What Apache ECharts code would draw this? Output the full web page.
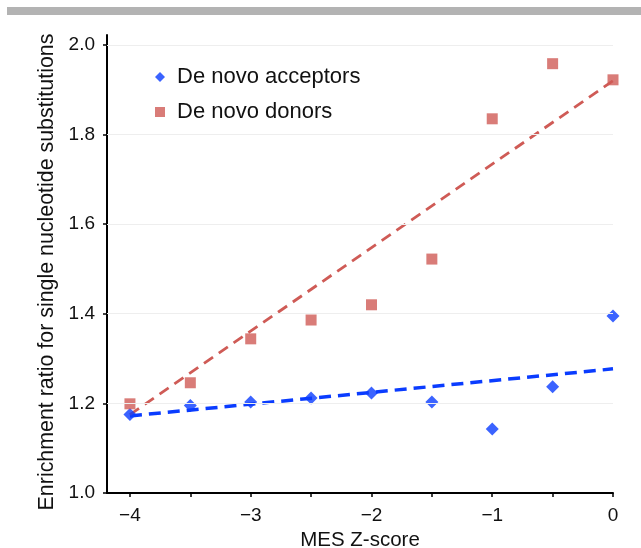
<!DOCTYPE html>
<html>
<head>
<meta charset="utf-8">
<script src="https://cdn.jsdelivr.net/npm/echarts@6/dist/echarts.min.js"></script>
<style>html,body{margin:0;padding:0;background:#fff}#c{width:641px;height:548px}</style>
</head>
<body>
<div id="c"></div>
<script>
// Data
const xValues = [-4, -3.5, -3, -2.5, -2, -1.5, -1, -0.5, 0];
const acceptors = [1.175, 1.195, 1.203, 1.212, 1.223, 1.203, 1.143, 1.237, 1.395];
const donors = [1.199, 1.246, 1.344, 1.386, 1.420, 1.522, 1.835, 1.958, 1.922];
const trendX = [-4, 0];
const acceptorTrend = [1.172, 1.277];
const donorTrend = [1.175, 1.920];
const xTickValues = [-4, -3.5, -3, -2.5, -2, -1.5, -1, -0.5, 0];
const xLabelValues = [-4, -3, -2, -1, 0];
const yLabelValues = [1.0, 1.2, 1.4, 1.6, 1.8, 2.0];
const gridValues = [1.2, 1.4, 1.6, 1.8, 2.0];

const FONT = "'Liberation Sans', Arial, sans-serif";
const BLUE = '#0a3cff';
const RED = '#cf5b56';

const chart = echarts.init(document.getElementById('c'), null, {renderer: 'canvas'});
chart.setOption({
  animation: false,
  backgroundColor: '#fff',
  textStyle: {fontFamily: FONT},
  graphic: [{
    type: 'rect', shape: {x: 7, y: 7, width: 640, height: 8},
    style: {fill: '#b3b3b3'}, silent: true
  }],
  grid: {left: 107, right: 28, top: 35, bottom: 55, containLabel: false, outerBoundsMode: 'none'},
  legend: {
    left: 150, top: 61, orient: 'vertical',
    itemWidth: 10, itemHeight: 10, itemGap: 13,
    textStyle: {fontFamily: FONT, fontSize: 22, color: '#111', lineHeight: 22, padding: [0, 0, 0, 7]},
    data: [
      {name: 'De novo acceptors', icon: 'diamond'},
      {name: 'De novo donors', icon: 'rect'}
    ]
  },
  xAxis: {
    type: 'value', min: -4.19, max: 0,
    name: 'MES Z-score', nameLocation: 'middle', nameGap: 34,
    nameTextStyle: {fontFamily: FONT, fontSize: 20.5, color: '#111'},
    axisLine: {show: true, onZero: false, lineStyle: {color: '#000', width: 2}},
    axisTick: {show: true, length: 4, customValues: xTickValues, lineStyle: {color: '#000', width: 1.5}},
    axisLabel: {
      customValues: xLabelValues, margin: 13, fontSize: 19, color: '#111', fontFamily: FONT,
      formatter: v => v === 0 ? '0' : '\u2212' + Math.abs(v)
    },
    splitLine: {show: false}
  },
  yAxis: {
    type: 'value', min: 1.0, max: 2.022,
    name: 'Enrichment ratio for single nucleotide substitutions',
    nameLocation: 'middle', nameGap: 49,
    nameTextStyle: {fontFamily: FONT, fontSize: 21.4, color: '#111', padding: [0, 16, 0, 0]},
    axisLine: {show: true, onZero: false, lineStyle: {color: '#000', width: 2}},
    axisTick: {show: true, length: 4, customValues: yLabelValues, lineStyle: {color: '#000', width: 1.5}},
    axisLabel: {
      customValues: yLabelValues, margin: 12, fontSize: 19, color: '#111', fontFamily: FONT,
      formatter: v => v.toFixed(1)
    },
    splitLine: {show: false}
  },
  series: [
    {
      name: 'gridlines', type: 'line', data: [[-4.19, 1.0]], symbol: 'none', silent: true,
      lineStyle: {opacity: 0},
      markLine: {
        silent: true, symbol: 'none', label: {show: false},
        lineStyle: {color: '#eeeeee', width: 1, type: 'solid'},
        data: gridValues.map(v => ({yAxis: v}))
      }
    },
    {
      name: 'acceptorTrend', type: 'line', symbol: 'none', silent: true, z: 3,
      data: trendX.map((x, i) => [x, acceptorTrend[i]]),
      lineStyle: {color: BLUE, width: 3.5, type: [12, 7]}
    },
    {
      name: 'donorTrend', type: 'line', symbol: 'none', silent: true, z: 3,
      data: trendX.map((x, i) => [x, donorTrend[i]]),
      lineStyle: {color: RED, width: 2.8, type: [11, 7]}
    },
    {
      name: 'De novo acceptors', type: 'scatter', symbol: 'diamond', symbolSize: 13, z: 4,
      itemStyle: {color: BLUE},
      data: xValues.map((x, i) => [x, acceptors[i]])
    },
    {
      name: 'De novo donors', type: 'scatter', symbol: 'rect', symbolSize: 11, z: 4,
      itemStyle: {color: RED},
      data: xValues.map((x, i) => [x, donors[i]])
    }
  ]
});
</script>
</body>
</html>
